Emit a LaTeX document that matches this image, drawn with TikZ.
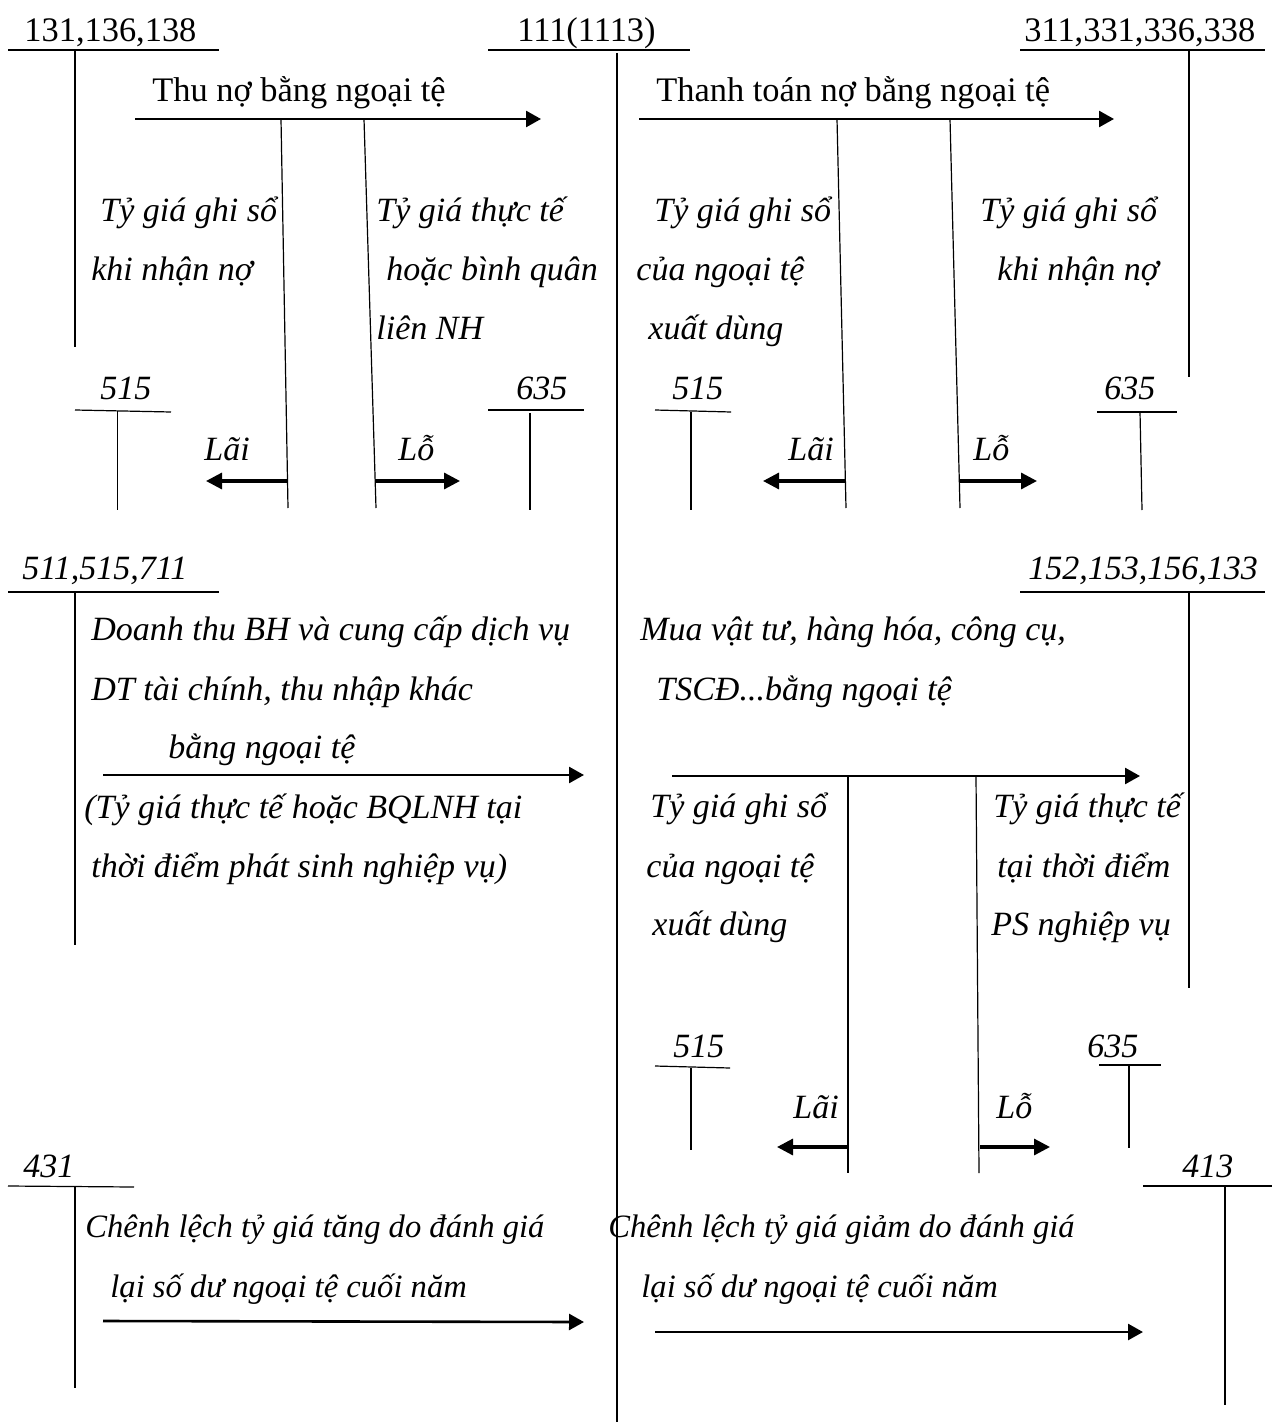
\documentclass[tikz,border=0pt]{standalone}
\usepackage{fontspec}
\setmainfont{Liberation Serif}
\usetikzlibrary{arrows.meta}
\begin{document}
\begin{tikzpicture}[x=0.5pt,y=-0.5pt,
  lbl/.style={inner sep=0pt, anchor=base west, font=\fontsize{17.2}{20}\selectfont},
  ilbl/.style={inner sep=0pt, anchor=base west, font=\fontsize{17}{20}\selectfont\itshape},
  slbl/.style={inner sep=0pt, anchor=base west, font=\fontsize{16.3}{20}\selectfont\itshape},
  tline/.style={line width=0.6pt},
  flow/.style={line width=1.3pt, -{Triangle[length=7.5pt,width=8pt]}},
  gl/.style={line width=1.6pt, -{Triangle[length=8pt,width=8pt]}},
]
\useasboundingbox (0,0) rectangle (1272,1422);
% ---------- top accounts
\node[lbl] (t131) at (24,42) {131,136,138};
\draw[tline] (8,50) -- (219,50);
\draw[tline] (75,50) -- (75,347);
\node[lbl] (t111) at (517,42) {111(1113)};
\draw[tline] (488,50) -- (690,50);
\draw[tline] (617,53) -- (617,1422);
\node[lbl] (t311) at (1024,42) {311,331,336,338};
\draw[tline] (1020,50) -- (1265,50);
\draw[tline] (1189,50) -- (1189,377);
% ---------- flow 1
\coordinate (a1s) at (135,119); \coordinate (a1e) at (541,119);
\draw[flow] (a1s) -- (a1e);
\node[lbl] (l1) at (152,102) {Thu nợ bằng ngoại tệ};
\coordinate (b1t) at (281,119); \coordinate (b1b) at (288,508);
\coordinate (b2t) at (364,119); \coordinate (b2b) at (376,508);
\draw[tline] (b1t) -- (b1b);
\draw[tline] (b2t) -- (b2b);
\coordinate (g1s) at (287,481); \coordinate (g1e) at (206,481);
\coordinate (g2s) at (375,481); \coordinate (g2e) at (460,481);
\draw[gl] (g1s) -- (g1e);
\draw[gl] (g2s) -- (g2e);
\node[ilbl] (lai1) at (204,460) {Lãi};
\node[ilbl] (lo1) at (398,460) {Lỗ};
\node[ilbl] (t515a) at (100,400) {515};
\draw[tline] (75,410) -- (171,412);
\draw[tline] (117.5,411) -- (117.5,510);
\node[ilbl] (t635a) at (516,400) {635};
\draw[tline] (488,410) -- (584,410);
\draw[tline] (530,413) -- (530,510);
\node[ilbl] (x1) at (100,222) {Tỷ giá ghi sổ};
\node[ilbl] (x2) at (91,281) {khi nhận nợ};
\node[ilbl] (x3) at (376,222) {Tỷ giá thực tế};
\node[ilbl] (x4) at (386,281) {hoặc bình quân};
\node[ilbl] (x5) at (376,340) {liên NH};
% ---------- flow 2
\coordinate (a2s) at (639,119); \coordinate (a2e) at (1114,119);
\draw[flow] (a2s) -- (a2e);
\node[lbl] (l2) at (656,102) {Thanh toán nợ bằng ngoại tệ};
\coordinate (b3t) at (837,119); \coordinate (b3b) at (846,508);
\coordinate (b4t) at (950,119); \coordinate (b4b) at (960,508);
\draw[tline] (b3t) -- (b3b);
\draw[tline] (b4t) -- (b4b);
\coordinate (g3s) at (846,481); \coordinate (g3e) at (763,481);
\coordinate (g4s) at (960,481); \coordinate (g4e) at (1037,481);
\draw[gl] (g3s) -- (g3e);
\draw[gl] (g4s) -- (g4e);
\node[ilbl] (lai2) at (788,460) {Lãi};
\node[ilbl] (lo2) at (973,460) {Lỗ};
\node[ilbl] (t515b) at (672,400) {515};
\draw[tline] (655,410) -- (731,412);
\draw[tline] (691,412) -- (691,510);
\node[ilbl] (t635b) at (1104,400) {635};
\draw[tline] (1097,412) -- (1177,412);
\draw[tline] (1140,412) -- (1142,510);
\node[ilbl] (y1) at (654,222) {Tỷ giá ghi sổ};
\node[ilbl] (y2) at (636,281) {của ngoại tệ};
\node[ilbl] (y3) at (648,340) {xuất dùng};
\node[ilbl] (y4) at (980,222) {Tỷ giá ghi sổ};
\node[ilbl] (y5) at (997,281) {khi nhận nợ};
% ---------- flow 3
\node[ilbl] (t511) at (22,579) {511,515,711};
\draw[tline] (8,592) -- (219,592);
\draw[tline] (75,592) -- (75,945);
\node[ilbl] (z1) at (91,640) {Doanh thu BH và cung cấp dịch vụ};
\node[ilbl] (z2) at (91,700) {DT tài chính, thu nhập khác};
\node[ilbl] (z3) at (168,758) {bằng ngoại tệ};
\coordinate (a3s) at (103,775); \coordinate (a3e) at (584,775);
\draw[flow] (a3s) -- (a3e);
\node[ilbl] (z4) at (84,818) {(Tỷ giá thực tế hoặc BQLNH tại};
\node[ilbl] (z5) at (91,877) {thời điểm phát sinh nghiệp vụ)};
% ---------- flow 4
\node[ilbl] (t152) at (1028,579) {152,153,156,133};
\draw[tline] (1020,592) -- (1265,592);
\draw[tline] (1189,592) -- (1189,988);
\node[ilbl] (w1) at (640,640) {Mua vật tư, hàng hóa, công cụ,};
\node[ilbl] (w2) at (656,700) {TSCĐ...bằng ngoại tệ};
\coordinate (a4s) at (672,776); \coordinate (a4e) at (1140,776);
\draw[flow] (a4s) -- (a4e);
\coordinate (b5t) at (848,776); \coordinate (b5b) at (848,1173);
\coordinate (b6t) at (976,776); \coordinate (b6b) at (979,1173);
\draw[tline] (b5t) -- (b5b);
\draw[tline] (b6t) -- (b6b);
\node[ilbl] (w3) at (650,817) {Tỷ giá ghi sổ};
\node[ilbl] (w4) at (646,877) {của ngoại tệ};
\node[ilbl] (w5) at (652,935) {xuất dùng};
\node[ilbl] (w6) at (993,817) {Tỷ giá thực tế};
\node[ilbl] (w7) at (997,877) {tại thời điểm};
\node[ilbl] (w8) at (991,935) {PS nghiệp vụ};
\node[ilbl] (t515c) at (673,1057) {515};
\draw[tline] (655,1066) -- (730,1068);
\draw[tline] (691,1068) -- (691,1150);
\node[ilbl] (t635c) at (1087,1057) {635};
\draw[tline] (1099,1065) -- (1161,1065);
\draw[tline] (1129,1065) -- (1129,1148);
\coordinate (g5s) at (848,1147); \coordinate (g5e) at (777,1147);
\coordinate (g6s) at (980,1147); \coordinate (g6e) at (1050,1147);
\draw[gl] (g5s) -- (g5e);
\draw[gl] (g6s) -- (g6e);
\node[ilbl] (lai3) at (793,1118) {Lãi};
\node[ilbl] (lo3) at (996,1118) {Lỗ};
% ---------- flow 5 / 6
\node[ilbl] (t431) at (23,1177) {431};
\draw[tline] (8,1186) -- (134,1187);
\draw[tline] (75,1187) -- (75,1388);
\node[slbl] (v1) at (85,1237) {Chênh lệch tỷ giá tăng do đánh giá};
\node[slbl] (v2) at (110,1297) {lại số dư ngoại tệ cuối năm};
\coordinate (a5s) at (103,1321); \coordinate (a5e) at (584,1322);
\draw[flow] (a5s) -- (a5e);
\node[slbl] (v3) at (608,1237) {Chênh lệch tỷ giá giảm do đánh giá};
\node[slbl] (v4) at (641,1297) {lại số dư ngoại tệ cuối năm};
\coordinate (a6s) at (655,1332); \coordinate (a6e) at (1143,1332);
\draw[flow] (a6s) -- (a6e);
\node[ilbl] (t413) at (1182,1177) {413};
\draw[tline] (1143,1186) -- (1272,1186);
\draw[tline] (1225,1186) -- (1225,1405);
\end{tikzpicture}
\end{document}
